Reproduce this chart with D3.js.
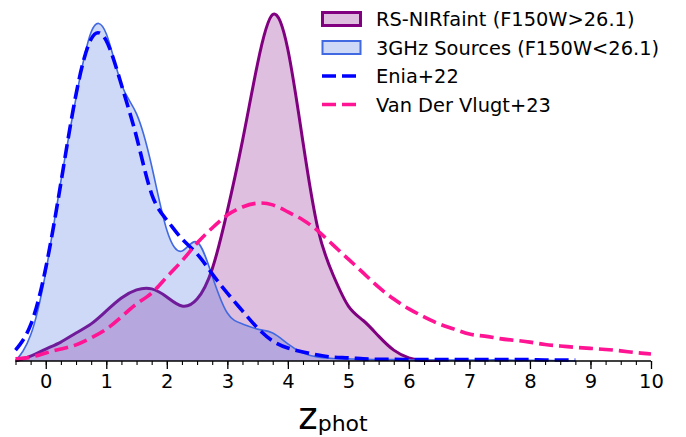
<!DOCTYPE html>
<html>
<head>
<meta charset="UTF-8">
<title>z_phot distributions</title>
<script src="https://d3js.org/d3.v7.min.js"></script>
<style>
  body { margin: 0; background: #fff; }
  text { font-family: "DejaVu Sans", sans-serif; }
</style>
</head>
<body>
<div class="canvas"></div>
<script>
  // redshift grid, step 0.25 starting at -0.5
  const zGrid = d3.range(0, 43).map(i => -0.5 + i * 0.25);

  // RS-NIRfaint (F150W>26.1), z = -0.5 .. 6.5
  const nirFaint = [0, 0.014, 0.034, 0.054, 0.080, 0.106, 0.143, 0.180, 0.203, 0.206,
    0.183, 0.157, 0.177, 0.263, 0.429, 0.629, 0.850, 0.990, 0.890, 0.625,
    0.375, 0.245, 0.157, 0.115, 0.071, 0.031, 0.009, 0.001, 0];

  // 3GHz Sources (F150W<26.1), z = -0.5 .. 8.75
  const radio3GHz = [0, 0.074, 0.254, 0.514, 0.752, 0.940, 0.935, 0.791, 0.706, 0.557,
    0.374, 0.314, 0.340, 0.243, 0.137, 0.106, 0.091, 0.080, 0.049, 0.023,
    0.011, 0.007, 0.006, 0.005, 0.004, 0.004, 0.003, 0.003, 0.003, 0.003,
    0.003, 0.003, 0.003, 0.002, 0.002, 0.002, 0.001, 0];

  // Enia+22, z = -0.5 .. 8.75
  const enia22 = [0.031, 0.103, 0.266, 0.509, 0.762, 0.920, 0.915, 0.789, 0.640, 0.477,
    0.403, 0.349, 0.306, 0.249, 0.194, 0.143, 0.094, 0.057, 0.037, 0.026,
    0.017, 0.011, 0.009, 0.006, 0.005, 0.005, 0.004, 0.004, 0.004, 0.004,
    0.004, 0.004, 0.004, 0.004, 0.004, 0.003, 0.003, 0.003];

  // Van Der Vlugt+23, z = -0.5 .. 10
  const vlugt23 = [0.006, 0.011, 0.023, 0.034, 0.046, 0.066, 0.091, 0.126, 0.163, 0.194,
    0.240, 0.286, 0.337, 0.380, 0.417, 0.440, 0.451, 0.446, 0.426, 0.403,
    0.371, 0.331, 0.291, 0.251, 0.211, 0.177, 0.149, 0.126, 0.106, 0.091,
    0.077, 0.071, 0.064, 0.059, 0.054, 0.047, 0.043, 0.039, 0.036, 0.033,
    0.029, 0.024, 0.020];

  const xTicks = d3.range(0, 11);
  const legendLabels = ['RS-NIRfaint (F150W>26.1)', '3GHz Sources (F150W<26.1)', 'Enia+22', 'Van Der Vlugt+23'];

  const width = 686;
  const height = 437;
  const [ml, mr, mt, mb] = [15.5, 35, 11, 76];
  const dash = '14,6';

  const svg = d3.select('.canvas')
                .append('svg')
                .attr('width', width)
                .attr('height', height);

  const x = d3.scaleLinear()
              .domain([-0.5, 10])
              .range([ml, width - mr]);

  const y = d3.scaleLinear()
              .domain([0, 1])
              .range([height - mb, mt]);

  const pairs = vals => vals.map((v, i) => [zGrid[i], v]);

  // keep the splines from dipping under the axis
  svg.append('clipPath')
     .attr('id', 'plotclip')
     .append('rect')
     .attr('x', 0).attr('y', 0)
     .attr('width', width).attr('height', y(0) + 1);

  const area = d3.area()
                 .x(d => x(d[0]))
                 .y0(y(0))
                 .y1(d => y(d[1]))
                 .curve(d3.curveNatural);

  const line = d3.line()
                 .x(d => x(d[0]))
                 .y(d => y(d[1]))
                 .curve(d3.curveNatural);

  const graph = svg.append('g').attr('clip-path', 'url(#plotclip)');

  // filled histograms
  graph.append('path')
       .attr('d', area(pairs(nirFaint)))
       .attr('fill', 'purple')
       .attr('fill-opacity', 0.25);
  graph.append('path')
       .attr('d', line(pairs(nirFaint)))
       .attr('fill', 'none')
       .attr('stroke', 'purple')
       .attr('stroke-width', 3);

  graph.append('path')
       .attr('d', area(pairs(radio3GHz)))
       .attr('fill', 'royalblue')
       .attr('fill-opacity', 0.26);
  graph.append('path')
       .attr('d', line(pairs(radio3GHz)))
       .attr('fill', 'none')
       .attr('stroke', 'royalblue')
       .attr('stroke-width', 1.6);

  // literature curves
  graph.append('path')
       .attr('d', line(pairs(enia22)))
       .attr('fill', 'none')
       .attr('stroke', 'blue')
       .attr('stroke-width', 3.6)
       .attr('stroke-dasharray', dash);

  graph.append('path')
       .attr('d', line(pairs(vlugt23)))
       .attr('fill', 'none')
       .attr('stroke', 'deeppink')
       .attr('stroke-width', 3.6)
       .attr('stroke-dasharray', dash);

  // x axis: minor ticks every 0.25, major every 1
  const minor = svg.append('g')
                   .attr('transform', `translate(0, ${y(0)})`)
                   .call(d3.axisBottom(x)
                           .tickValues(d3.range(-0.5, 10.01, 0.25))
                           .tickSize(4)
                           .tickFormat(''));
  minor.select('.domain').remove();
  minor.selectAll('.tick line').attr('stroke-width', 1.1);

  const major = svg.append('g')
                   .attr('transform', `translate(0, ${y(0)})`)
                   .call(d3.axisBottom(x)
                           .tickValues(xTicks)
                           .tickSize(8)
                           .tickPadding(5)
                           .tickFormat(d3.format('d')));
  major.select('.domain')
       .attr('d', `M${x(-0.5)},0H${x(10)}`)
       .attr('stroke-width', 1.6);
  major.selectAll('.tick line').attr('stroke-width', 1.3);
  major.selectAll('.tick text')
       .style('font-size', '19.5px')
       .attr('fill', '#000');

  // axis label z_phot
  const xl = svg.append('text')
                .attr('x', 333)
                .attr('y', 429)
                .attr('text-anchor', 'middle')
                .attr('fill', '#000');
  xl.append('tspan').style('font-size', '37px').text('z');
  xl.append('tspan').style('font-size', '22px').attr('dy', 2).text('phot');

  // legend
  const legend = svg.append('g').attr('transform', 'translate(321, 19)');
  const rowH = 28.5;
  const styles = [
    { type: 'patch', fill: 'purple', stroke: 'purple', sw: 3, op: 0.25 },
    { type: 'patch', fill: 'royalblue', stroke: 'royalblue', sw: 2, op: 0.26 },
    { type: 'line', stroke: 'blue' },
    { type: 'line', stroke: 'deeppink' }
  ];

  legendLabels.forEach((lab, i) => {
    const row = legend.append('g').attr('transform', `translate(0, ${i * rowH})`);
    const s = styles[i];
    if (s.type === 'patch') {
      row.append('rect')
         .attr('x', 1.5).attr('y', -6.5)
         .attr('width', 38).attr('height', 13)
         .attr('fill', s.fill).attr('fill-opacity', s.op)
         .attr('stroke', s.stroke).attr('stroke-width', s.sw);
    } else {
      row.append('line')
         .attr('x1', 1).attr('x2', 40)
         .attr('y1', 0).attr('y2', 0)
         .attr('stroke', s.stroke).attr('stroke-width', 3.6)
         .attr('stroke-dasharray', dash);
    }
    row.append('text')
       .attr('x', 55)
       .attr('y', 7)
       .style('font-size', '19.4px')
       .attr('fill', '#000')
       .text(lab);
  });
</script>
</body>
</html>
